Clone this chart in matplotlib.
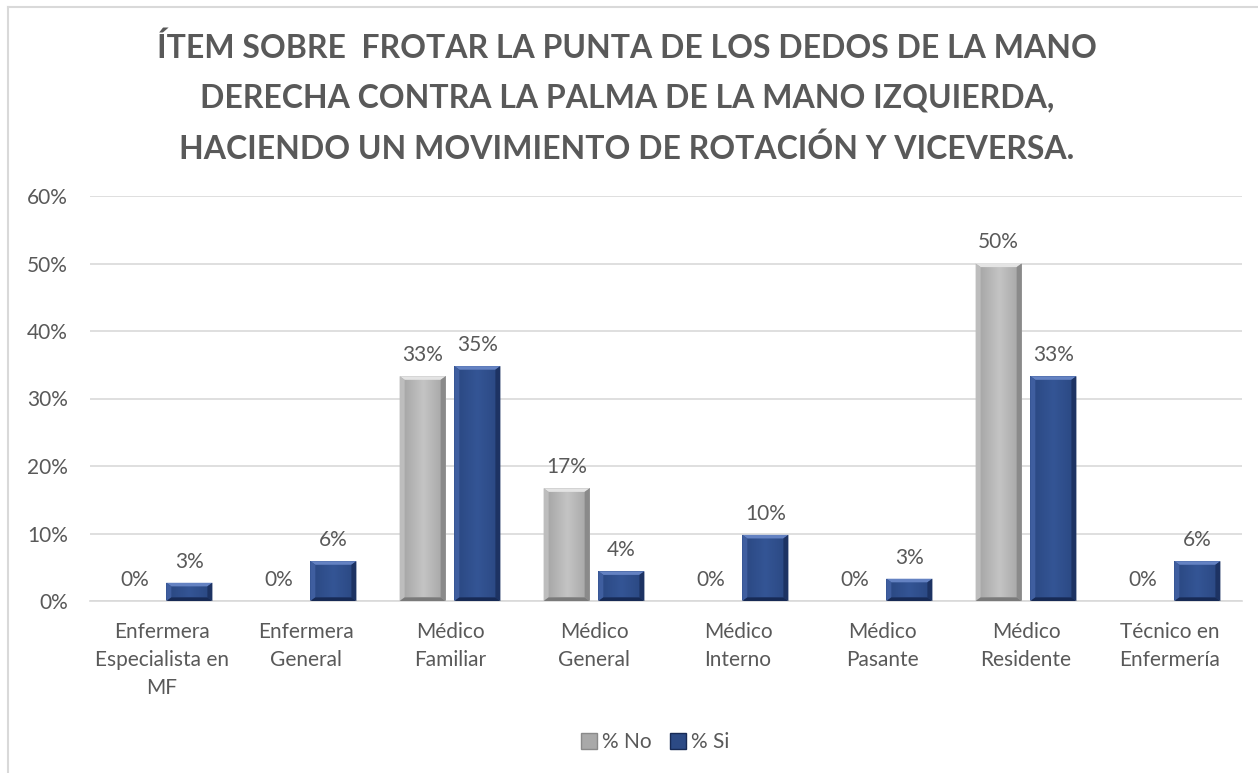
import numpy as np
import matplotlib
matplotlib.use('Agg')
import matplotlib.pyplot as plt
from matplotlib.patches import Polygon, Rectangle
from matplotlib.lines import Line2D
from matplotlib.ticker import FuncFormatter


categorias = ['Enfermera\nEspecialista en\nMF', 'Enfermera\nGeneral', 'Médico\nFamiliar',
              'Médico\nGeneral', 'Médico\nInterno', 'Médico\nPasante', 'Médico\nResidente',
              'Técnico en\nEnfermería']
pct_no = [0, 0, 33.3, 16.7, 0, 0, 50.0, 0]
pct_si = [2.7, 5.9, 34.8, 4.4, 9.8, 3.3, 33.3, 5.9]
series = ['% No', '% Si']

titulo = ('ÍTEM SOBRE  FROTAR LA PUNTA DE LOS DEDOS DE LA MANO\n'
          'DERECHA CONTRA LA PALMA DE LA MANO IZQUIERDA,\n'
          'HACIENDO UN MOVIMIENTO DE ROTACIÓN Y VICEVERSA.')

plt.rcParams['font.family'] = ['Lato', 'DejaVu Sans']
TXT = '#595959'

# colores del bisel: cuerpo, centro, arriba, izq, der, abajo
GRIS = dict(body='#a9a9a9', center='#c4c4c4', top='#e4e4e4', left='#bdbdbd', right='#8a8a8a', bottom='#7a7a7a')
AZUL = dict(body='#2c4a85', center='#345595', top='#6482c2', left='#3f5e9f', right='#1d3363', bottom='#172a55')


def bevel_bar(ax, xc, w, h, c, bx, by):
    if h <= 0:
        return
    x0, x1 = xc - w / 2, xc + w / 2
    by = min(by, h / 2)
    ax.add_patch(Rectangle((x0, 0), w, h, facecolor=c['body'], edgecolor='none', zorder=2))
    g = np.abs(np.linspace(-1, 1, 64))
    img = np.array([matplotlib.colors.to_rgb(c['center'])]) * (1 - g[:, None]) + \
        np.array([matplotlib.colors.to_rgb(c['body'])]) * g[:, None]
    ax.imshow(img[None, :, :], extent=[x0 + bx, x1 - bx, by, h - by], aspect='auto',
              zorder=2.1, interpolation='bilinear')
    ax.add_patch(Polygon([(x0, h), (x1, h), (x1 - bx, h - by), (x0 + bx, h - by)],
                         closed=True, facecolor=c['top'], edgecolor='none', zorder=3))
    ax.add_patch(Polygon([(x0, 0), (x0, h), (x0 + bx, h - by), (x0 + bx, by)],
                         closed=True, facecolor=c['left'], edgecolor='none', zorder=3))
    ax.add_patch(Polygon([(x1, 0), (x1, h), (x1 - bx, h - by), (x1 - bx, by)],
                         closed=True, facecolor=c['right'], edgecolor='none', zorder=3))
    ax.add_patch(Polygon([(x0, 0), (x1, 0), (x1 - bx, by), (x0 + bx, by)],
                         closed=True, facecolor=c['bottom'], edgecolor='none', zorder=3))


fig = plt.figure(figsize=(12.58, 7.73), dpi=100)
ax = fig.add_axes([90 / 1258, 1 - 601 / 773, 1152 / 1258, 405 / 773])

x = np.arange(len(categorias))
ancho = 0.32
off = 0.19
bx = 5 / 144
by = 6 / 675 * 60

for i in range(len(categorias)):
    bevel_bar(ax, x[i] - off, ancho, pct_no[i], GRIS, bx, by)
    bevel_bar(ax, x[i] + off, ancho, pct_si[i], AZUL, bx, by)
    ax.annotate('%d%%' % round(pct_no[i]), (x[i] - off, pct_no[i]), xytext=(0, 8),
                textcoords='offset points', ha='center', va='bottom', fontsize=15, color=TXT)
    ax.annotate('%d%%' % round(pct_si[i]), (x[i] + off, pct_si[i]), xytext=(0, 8),
                textcoords='offset points', ha='center', va='bottom', fontsize=15, color=TXT)

ax.set_xlim(-0.5, len(categorias) - 0.5)
ax.set_ylim(0, 60)
ax.set_yticks(np.arange(0, 61, 10))
ax.yaxis.set_major_formatter(FuncFormatter(lambda v, p: '%d%%' % v))
ax.set_xticks(x)
ax.set_xticklabels(categorias, fontsize=15, color=TXT, linespacing=1.52)
ax.tick_params(axis='y', labelsize=15, labelcolor=TXT, length=0, pad=16)
ax.tick_params(axis='x', length=0, pad=15)
ax.grid(axis='y', color='#d9d9d9', lw=1.2, zorder=0)
ax.set_axisbelow(True)
for s in ['top', 'right', 'left']:
    ax.spines[s].set_visible(False)
ax.spines['bottom'].set_color('#d9d9d9')
ax.spines['bottom'].set_linewidth(1.2)

fig.text(627 / 1258, 1 - 98 / 773, titulo, ha='center', va='center', fontsize=23, fontweight='bold',
         color=TXT, linespacing=1.83)

handles = [Line2D([], [], marker='s', ls='none', markersize=11, markerfacecolor=GRIS['body'],
                  markeredgecolor=GRIS['right']),
           Line2D([], [], marker='s', ls='none', markersize=11, markerfacecolor=AZUL['body'],
                  markeredgecolor=AZUL['bottom'])]
fig.legend(handles, series, loc='center', bbox_to_anchor=(655 / 1258, 1 - 742 / 773), ncol=2,
           frameon=False, fontsize=15, handlelength=0.8, handletextpad=0.2, columnspacing=0.9,
           labelcolor=TXT)

# borde del grafico
fig.add_artist(Line2D([8 / 1258, 8 / 1258], [0, 1 - 7 / 773], transform=fig.transFigure,
                      color='#d9d9d9', lw=1.5))
fig.add_artist(Line2D([8 / 1258, 1], [1 - 7 / 773, 1 - 7 / 773], transform=fig.transFigure,
                      color='#d9d9d9', lw=1.5))

fig.savefig('out.png', dpi=100)
